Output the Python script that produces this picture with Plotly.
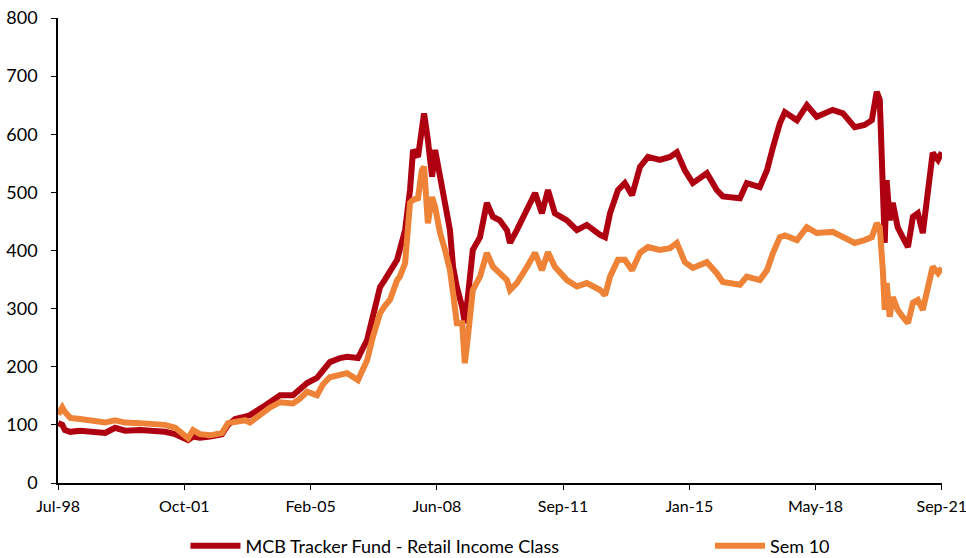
import plotly.graph_objects as go
import pandas as pd

# time in decimal years
t_years = [1998.50, 1998.61, 1998.68, 1998.82, 1999.08, 1999.47, 1999.74, 2000.00, 2000.26, 2000.66,
           2001.05, 2001.31, 2001.58, 2001.76, 2001.92, 2002.05, 2002.23, 2002.50, 2002.81, 2002.97,
           2003.16, 2003.42, 2003.55, 2003.89, 2004.08, 2004.34, 2004.68, 2004.86, 2005.05, 2005.31,
           2005.47, 2005.65, 2005.92, 2006.10, 2006.39, 2006.63, 2006.78, 2006.97, 2007.10, 2007.23,
           2007.42, 2007.49, 2007.63, 2007.76, 2007.84, 2007.97, 2008.07, 2008.13, 2008.23, 2008.34,
           2008.42, 2008.55, 2008.68, 2008.81, 2008.89, 2008.99, 2009.13, 2009.20, 2009.28, 2009.41,
           2009.60, 2009.78, 2009.94, 2010.12, 2010.31, 2010.39, 2010.57, 2010.84, 2011.05, 2011.23,
           2011.39, 2011.57, 2011.89, 2012.15, 2012.41, 2012.76, 2012.89, 2013.02, 2013.23, 2013.41,
           2013.60, 2013.81, 2014.02, 2014.33, 2014.60, 2014.78, 2014.99, 2015.20, 2015.57, 2015.83,
           2015.99, 2016.44, 2016.62, 2016.96, 2017.15, 2017.31, 2017.49, 2017.62, 2017.94, 2018.20,
           2018.46, 2018.88, 2019.15, 2019.46, 2019.72, 2019.91, 2020.04, 2020.12, 2020.20, 2020.25,
           2020.30, 2020.38, 2020.46, 2020.59, 2020.72, 2020.86, 2020.99, 2021.12, 2021.25, 2021.38,
           2021.51, 2021.65, 2021.75]

mcb_tracker = [103, 100, 91, 88, 90, 88, 86, 95, 90, 91,
               90, 88, 84, 80, 74, 80, 78, 80, 84, 100,
               110, 114, 117, 131, 140, 151, 151, 160, 172, 181,
               195, 208, 215, 217, 215, 246, 286, 337, 350, 366,
               384, 401, 435, 504, 573, 561, 612, 636, 590, 527,
               573, 527, 487, 435, 372, 337, 303, 275, 320, 401,
               423, 482, 458, 452, 435, 413, 435, 470, 499, 464,
               504, 464, 452, 435, 444, 427, 423, 464, 504, 516,
               495, 544, 561, 556, 561, 569, 538, 516, 533, 504,
               493, 490, 516, 509, 538, 578, 619, 638, 624, 650,
               630, 642, 636, 612, 616, 624, 673, 659, 538, 413,
               521, 452, 482, 440, 423, 406, 458, 464, 430, 493,
               568, 556, 569]

sem10 = [118, 130, 122, 112, 110, 106, 104, 108, 104, 103,
         101, 100, 95, 86, 77, 91, 84, 82, 86, 103,
         105, 108, 104, 122, 130, 139, 137, 145, 157, 151,
         170, 182, 186, 189, 177, 211, 251, 292, 305, 315,
         349, 355, 378, 482, 487, 490, 538, 544, 447, 492,
         475, 430, 401, 366, 327, 275, 275, 206, 251, 332,
         355, 396, 372, 361, 349, 332, 344, 372, 396, 366,
         397, 372, 349, 338, 344, 332, 323, 355, 384, 384,
         366, 396, 406, 401, 404, 413, 380, 370, 380, 361,
         346, 341, 355, 349, 366, 396, 423, 426, 418, 440,
         430, 432, 423, 413, 418, 423, 447, 440, 366, 298,
         344, 286, 320, 298, 286, 275, 310, 315, 298, 338,
         372, 361, 370]

tick_labels = ["Jul-98", "Oct-01", "Feb-05", "Jun-08", "Sep-11", "Jan-15", "May-18", "Sep-21"]
series_names = ["MCB Tracker Fund - Retail Income Class", "Sem 10"]
series_colors = ["#AE0010", "#EE8236"]


def to_date(y):
    year = int(y)
    start = pd.Timestamp(year=year, month=1, day=1)
    end = pd.Timestamp(year=year + 1, month=1, day=1)
    return start + (end - start) * (y - year)


dates = [to_date(v) for v in t_years]
first, last = dates[0], dates[-1]
n = len(tick_labels)
tick_vals = [first + (last - first) * k / (n - 1) for k in range(n)]

fig = go.Figure()
legend_ids = ["legend", "legend2"]
for name, vals, col, lg in zip(series_names, [mcb_tracker, sem10], series_colors, legend_ids):
    fig.add_trace(go.Scatter(x=dates, y=vals, mode="lines", name=name, legend=lg,
                             line=dict(color=col, width=6)))

font_family = "'Gill Sans', Lato, 'Open Sans', sans-serif"
leg_common = dict(orientation="h", xref="container", yref="container",
                  y=0.0215, yanchor="middle", xanchor="left",
                  font=dict(size=18, color="black"), bgcolor="rgba(0,0,0,0)",
                  itemwidth=50, tracegroupgap=0)
fig.update_layout(
    width=966, height=558,
    margin=dict(l=58, r=24, t=18, b=75),
    plot_bgcolor="white", paper_bgcolor="white",
    font=dict(family=font_family, size=18, color="black"),
    showlegend=True,
    legend=dict(x=0.192, **leg_common),
    legend2=dict(x=0.735, **leg_common),
    xaxis=dict(type="date", range=[first - pd.Timedelta(days=1), last + pd.Timedelta(days=2)],
               tickmode="array", tickvals=tick_vals,
               ticktext=tick_labels, showgrid=False, zeroline=False, showline=True,
               linecolor="black", linewidth=1.5, ticks="outside", ticklen=5,
               tickcolor="black", tickfont=dict(size=16), ticklabelstandoff=3,
               ticklabeloverflow="allow", automargin=False),
    yaxis=dict(range=[0, 800], tickvals=[0, 100, 200, 300, 400, 500, 600, 700, 800],
               showgrid=False, zeroline=False, showline=True, linecolor="black",
               linewidth=1.5, ticks="outside", ticklen=5, tickcolor="black",
               tickfont=dict(size=18), ticklabelstandoff=10,
               ticklabeloverflow="allow", automargin=False),
)

fig.write_html("out.html", config={"displayModeBar": False},
               post_script="document.body.style.margin='0';document.body.style.overflow='hidden';")
